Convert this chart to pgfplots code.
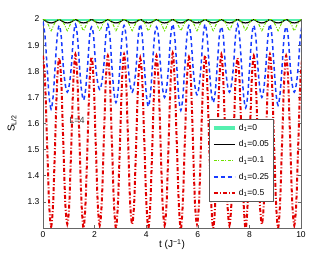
\documentclass[border=0pt]{standalone}
\usepackage{pgfplots}
\usepackage{pgfplotstable}
\pgfplotsset{compat=1.18}
\usepackage{fontspec}
\setmainfont{Liberation Sans}
\definecolor{cmint}{RGB}{85,240,175}
\definecolor{cgreen}{RGB}{110,225,0}
\definecolor{cblue}{RGB}{25,60,255}
\definecolor{cred}{RGB}{225,0,0}
\pgfplotstableread{
t      k      g      b      r
0.000  2.000  2.000  1.990  1.860
0.079  1.994  1.997  1.933  1.763
0.157  1.989  1.987  1.820  1.530
0.236  1.986  1.972  1.704  1.297
0.314  1.985  1.955  1.655  1.205
0.393  1.986  1.972  1.704  1.297
0.471  1.989  1.987  1.820  1.530
0.550  1.994  1.997  1.933  1.763
0.628  2.000  2.000  1.975  1.850
0.707  1.994  1.997  1.933  1.763
0.785  1.989  1.987  1.820  1.530
0.864  1.986  1.972  1.749  1.297
0.942  1.985  1.955  1.720  1.215
1.021  1.986  1.972  1.749  1.297
1.100  1.989  1.987  1.820  1.530
1.178  1.994  1.997  1.933  1.763
1.257  2.000  2.000  1.980  1.865
1.335  1.994  1.997  1.933  1.763
1.414  1.989  1.987  1.820  1.530
1.492  1.986  1.972  1.728  1.297
1.571  1.985  1.955  1.690  1.200
1.649  1.986  1.972  1.728  1.297
1.728  1.989  1.987  1.820  1.530
1.806  1.994  1.997  1.933  1.763
1.885  2.000  2.000  1.970  1.855
1.963  1.994  1.997  1.933  1.763
2.042  1.989  1.987  1.820  1.530
2.121  1.986  1.972  1.756  1.297
2.199  1.985  1.955  1.730  1.210
2.278  1.986  1.972  1.756  1.297
2.356  1.989  1.987  1.820  1.530
2.435  1.994  1.997  1.933  1.763
2.513  2.000  2.000  1.980  1.860
2.592  1.994  1.997  1.933  1.763
2.670  1.989  1.987  1.820  1.530
2.749  1.986  1.972  1.721  1.297
2.827  1.985  1.955  1.680  1.200
2.906  1.986  1.972  1.721  1.297
2.985  1.989  1.987  1.820  1.530
3.063  1.994  1.997  1.933  1.763
3.142  2.000  2.000  1.975  1.865
3.220  1.994  1.997  1.933  1.763
3.299  1.989  1.987  1.820  1.530
3.377  1.986  1.972  1.749  1.297
3.456  1.985  1.955  1.720  1.215
3.534  1.986  1.972  1.749  1.297
3.613  1.989  1.987  1.820  1.530
3.691  1.994  1.997  1.933  1.763
3.770  2.000  2.000  1.980  1.850
3.848  1.994  1.997  1.933  1.763
3.927  1.989  1.987  1.820  1.530
4.006  1.986  1.972  1.710  1.297
4.084  1.985  1.955  1.665  1.200
4.163  1.986  1.972  1.710  1.297
4.241  1.989  1.987  1.820  1.530
4.320  1.994  1.997  1.933  1.763
4.398  2.000  2.000  1.970  1.860
4.477  1.994  1.997  1.933  1.763
4.555  1.989  1.987  1.820  1.530
4.634  1.986  1.972  1.735  1.297
4.712  1.985  1.955  1.700  1.210
4.791  1.986  1.972  1.735  1.297
4.869  1.989  1.987  1.820  1.530
4.948  1.994  1.997  1.933  1.763
5.027  2.000  2.000  1.980  1.870
5.105  1.994  1.997  1.933  1.763
5.184  1.989  1.987  1.820  1.530
5.262  1.986  1.972  1.700  1.297
5.341  1.985  1.955  1.650  1.195
5.419  1.986  1.972  1.700  1.297
5.498  1.989  1.987  1.820  1.530
5.576  1.994  1.997  1.933  1.763
5.655  2.000  2.000  1.975  1.855
5.733  1.994  1.997  1.933  1.763
5.812  1.989  1.987  1.820  1.530
5.890  1.986  1.972  1.742  1.297
5.969  1.985  1.955  1.710  1.215
6.048  1.986  1.972  1.742  1.297
6.126  1.989  1.987  1.820  1.530
6.205  1.994  1.997  1.933  1.763
6.283  2.000  2.000  1.980  1.860
6.362  1.994  1.997  1.933  1.763
6.440  1.989  1.987  1.820  1.530
6.519  1.986  1.972  1.721  1.297
6.597  1.985  1.955  1.680  1.200
6.676  1.986  1.972  1.721  1.297
6.754  1.989  1.987  1.820  1.530
6.833  1.994  1.997  1.933  1.763
6.912  2.000  2.000  1.970  1.865
6.990  1.994  1.997  1.933  1.763
7.069  1.989  1.987  1.820  1.530
7.147  1.986  1.972  1.749  1.297
7.226  1.985  1.955  1.720  1.210
7.304  1.986  1.972  1.749  1.297
7.383  1.989  1.987  1.820  1.530
7.461  1.994  1.997  1.933  1.763
7.540  2.000  2.000  1.980  1.850
7.618  1.994  1.997  1.933  1.763
7.697  1.989  1.987  1.820  1.530
7.775  1.986  1.972  1.707  1.297
7.854  1.985  1.955  1.660  1.195
7.933  1.986  1.972  1.707  1.297
8.011  1.989  1.987  1.820  1.530
8.090  1.994  1.997  1.933  1.763
8.168  2.000  2.000  1.975  1.860
8.247  1.994  1.997  1.933  1.763
8.325  1.989  1.987  1.820  1.530
8.404  1.986  1.972  1.735  1.297
8.482  1.985  1.955  1.700  1.215
8.561  1.986  1.972  1.735  1.297
8.639  1.989  1.987  1.820  1.530
8.718  1.994  1.997  1.933  1.763
8.796  2.000  2.000  1.980  1.865
8.875  1.994  1.997  1.933  1.763
8.954  1.989  1.987  1.820  1.530
9.032  1.986  1.972  1.714  1.297
9.111  1.985  1.955  1.670  1.200
9.189  1.986  1.972  1.714  1.297
9.268  1.989  1.987  1.820  1.530
9.346  1.994  1.997  1.933  1.763
9.425  2.000  2.000  1.970  1.860
9.503  1.994  1.997  1.933  1.763
9.582  1.989  1.987  1.820  1.530
9.660  1.986  1.972  1.749  1.297
9.739  1.985  1.955  1.720  1.210
9.817  1.986  1.972  1.749  1.297
9.896  1.989  1.987  1.820  1.530
9.975  1.994  1.997  1.933  1.763
10.053 2.000  2.000  1.980  1.855
}\datatable
\begin{document}
\begin{tikzpicture}
\begin{axis}[
  scale only axis,
  width=258pt, height=209pt,
  xmin=0, xmax=10, ymin=1.2, ymax=2,
  xtick={0,2,4,6,8,10},
  ytick={1.3,1.4,1.5,1.6,1.7,1.8,1.9,2},
  yticklabels={1.3,1.4,1.5,1.6,1.7,1.8,1.9,2},
  tick align=inside,
  major tick length=3pt,
  axis line style={black!60, line width=0.7pt},
  tick style={black!60, line width=0.5pt},
  /pgf/number format/assume math mode=true,
  ticklabel style={font=\fontsize{8.5}{10}\selectfont},
  label style={font=\fontsize{10}{12}\selectfont},
  xlabel={t (J\textsuperscript{−1})},
  ylabel={S\textsubscript{L/2}},
  xlabel style={at={(axis description cs:0.5,-0.08)}, anchor=center},
  ylabel style={at={(axis description cs:-0.12,0.5)}, anchor=center},
  legend style={font=\fontsize{8.5}{10}\selectfont, at={(0.895,0.124)}, anchor=south east,
    draw=black!65, line width=0.9pt, row sep=4.7pt, inner sep=2.5pt,
    cells={anchor=west}},
  legend image code/.code={\draw[#1] (0pt,0pt) -- (21pt,0pt);},
]
\addplot[cmint, line width=4pt] table[x=t, y expr=2] {\datatable};
\addlegendentry{d\textsubscript{1}=0}
\addplot[black, line width=1.2pt, smooth] table[x=t, y=k] {\datatable};
\addlegendentry{d\textsubscript{1}=0.05}
\addplot[cgreen, line width=1pt, smooth, dash pattern=on 3pt off 1.5pt on 1pt off 1.5pt] table[x=t, y=g] {\datatable};
\addlegendentry{d\textsubscript{1}=0.1}
\addplot[cblue, line width=1.5pt, smooth, dash pattern=on 4pt off 3pt] table[x=t, y=b] {\datatable};
\addlegendentry{d\textsubscript{1}=0.25}
\addplot[cred, line width=2pt, smooth, dash pattern=on 4pt off 2pt on 1pt off 2pt] table[x=t, y=r] {\datatable};
\addlegendentry{d\textsubscript{1}=0.5}
\node[font=\fontsize{9}{11}\selectfont, text=black!75] at (axis cs:1.32,1.61) {L=4};
\node[font=\fontsize{9}{11}\selectfont, anchor=center] at (rel axis cs:0,1) [xshift=-22pt] {(a)};
\end{axis}
\pgfresetboundingbox
\path[use as bounding box] (-43pt,-29pt) rectangle (289pt,228pt);
\end{tikzpicture}
\end{document}
